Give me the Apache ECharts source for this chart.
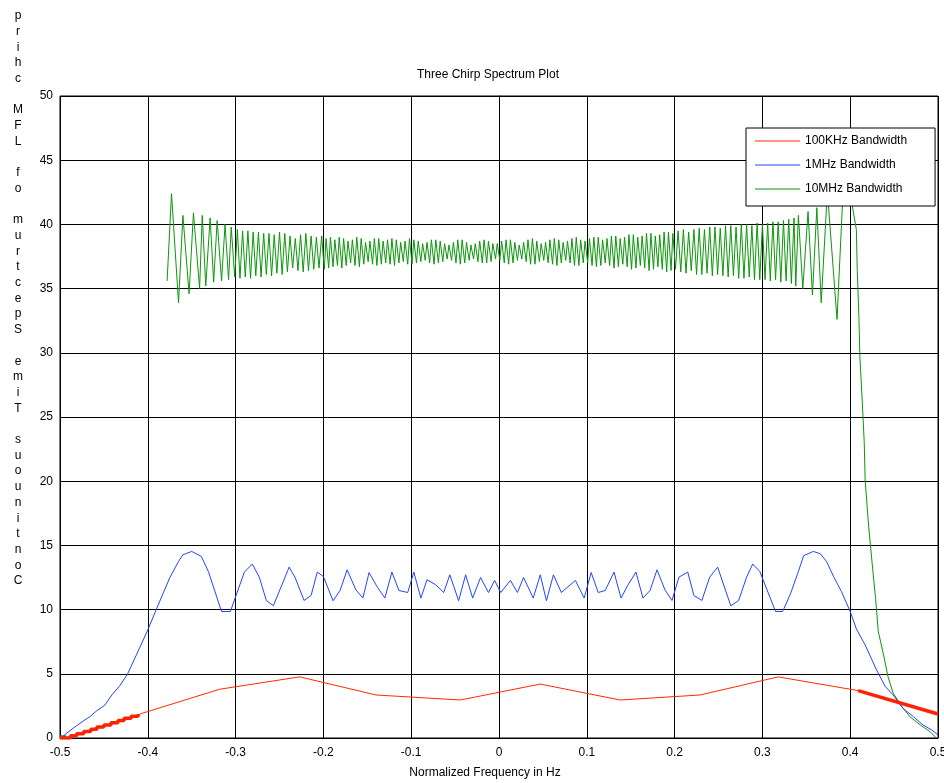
<!DOCTYPE html>
<html>
<head>
<meta charset="utf-8">
<script src="https://cdn.jsdelivr.net/npm/echarts@6/dist/echarts.min.js"></script>
<style>
  html, body { margin: 0; padding: 0; background: #fff; }
  #main { width: 944px; height: 783px; }
</style>
</head>
<body>
<div id="main"></div>
<script>
// axis ticks
var xTicks = [-0.5, -0.4, -0.3, -0.2, -0.1, 0, 0.1, 0.2, 0.3, 0.4, 0.5];
var yTicks = [0, 5, 10, 15, 20, 25, 30, 35, 40, 45, 50];

var seriesNames = ['100KHz Bandwidth', '1MHz Bandwidth', '10MHz Bandwidth'];

// 100KHz: thin part, plus the two heavy end pieces
var red100k = [[-0.409,1.87],[-0.318,3.8],[-0.227,4.76],[-0.14,3.35],[-0.044,2.96],[0.047,4.2],[0.138,2.96],[0.229,3.35],[0.318,4.76],[0.409,3.69]];
var red100kLeft = [[-0.5,0.0],[-0.496,0.0],[-0.488,0.17],[-0.481,0.34],[-0.473,0.51],[-0.465,0.68],[-0.458,0.85],[-0.45,1.02],[-0.442,1.19],[-0.434,1.36],[-0.427,1.53],[-0.419,1.7],[-0.411,1.87]];
var red100kRight = [[0.409,3.69],[0.5,1.87]];

// 1MHz
var blue1M = [[-0.497,0.1],[-0.492,0.4],[-0.481,0.96],[-0.474,1.3],[-0.466,1.66],[-0.458,2.13],[-0.449,2.55],[-0.441,3.35],[-0.432,4.06],[-0.423,4.99],[-0.413,6.47],[-0.4,8.42],[-0.391,9.9],
  [-0.383,11.2],[-0.375,12.48],[-0.365,13.75],[-0.36,14.27],[-0.35,14.53],[-0.339,14.14],[-0.331,12.97],[-0.316,9.85],[-0.306,9.85],[-0.29,12.92],[-0.281,13.55],[-0.273,12.53],
  [-0.265,10.71],[-0.257,10.3],[-0.239,13.31],[-0.232,12.46],[-0.222,10.71],[-0.214,11.1],[-0.207,12.92],[-0.2,12.58],[-0.189,10.69],[-0.181,11.49],[-0.173,13.1],[-0.163,11.54],
  [-0.155,10.9],[-0.148,12.89],[-0.139,11.8],[-0.13,10.9],[-0.122,12.92],[-0.114,11.49],[-0.104,11.33],[-0.097,12.92],[-0.089,10.9],[-0.082,12.32],[-0.072,11.93],[-0.063,11.33],
  [-0.056,12.71],[-0.046,10.69],[-0.038,12.71],[-0.03,10.9],[-0.021,12.5],[-0.012,11.33],[-0.005,12.27],[0.002,11.33],[0.013,12.27],[0.021,11.33],[0.028,12.5],[0.039,10.9],
  [0.047,12.71],[0.054,10.69],[0.062,12.71],[0.071,11.33],[0.087,12.27],[0.097,10.9],[0.105,12.89],[0.113,11.33],[0.121,11.49],[0.131,12.92],[0.139,10.9],[0.147,11.93],
  [0.156,12.92],[0.164,10.9],[0.172,11.49],[0.18,13.1],[0.189,11.54],[0.197,10.71],[0.205,12.53],[0.215,12.92],[0.222,11.1],[0.231,10.71],[0.24,12.53],[0.249,13.31],
  [0.264,10.3],[0.273,10.71],[0.282,12.53],[0.289,13.55],[0.297,12.97],[0.315,9.85],[0.323,9.85],[0.332,11.23],[0.341,12.97],[0.347,14.2],[0.358,14.53],[0.366,14.35],
  [0.373,13.75],[0.381,12.58],[0.39,11.41],[0.4,9.85],[0.407,8.5],[0.417,7.25],[0.43,5.3],[0.44,4.0],[0.449,3.35],[0.46,2.31],[0.472,1.66],[0.483,1.01],[0.493,0.62],[0.5,0.23]];

// 10MHz
var green10M = [[-0.378,35.6],[-0.373,42.4],[-0.365,33.9],[-0.36,40.7],[-0.353,34.6],[-0.348,40.9],[-0.341,35.0],[-0.338,40.7],[-0.334,35.2],[-0.329,40.5],[-0.325,35.5],
  [-0.321,40.3],[-0.316,35.6],[-0.312,40.0],[-0.308,35.7],[-0.305,39.8],[-0.301,35.9],
  [-0.298,39.6],[-0.295,35.8],[-0.292,39.5],[-0.289,35.9],[-0.286,39.5],[-0.283,35.8],[-0.28,39.4],[-0.277,36.0],[-0.274,39.4],[-0.271,35.9],[-0.268,39.3],[-0.265,36.1],
  [-0.262,39.3],[-0.259,36.0],[-0.256,39.2],[-0.253,36.2],[-0.25,39.4],[-0.247,36.1],[-0.244,39.3],[-0.241,36.3],[-0.238,39.1],[-0.235,36.6],[-0.232,38.9],[-0.229,36.4],
  [-0.226,39.2],[-0.223,36.3],[-0.22,39.3],[-0.217,36.4],[-0.214,39.1],[-0.211,36.5],[-0.208,39.0],[-0.205,36.6],[-0.202,39.1],[-0.199,36.5],
  [-0.197,38.9],[-0.194,36.6],[-0.192,39.0],[-0.189,36.7],[-0.187,38.8],[-0.184,36.8],[-0.182,39.0],[-0.179,36.6],[-0.177,38.9],[-0.174,36.8],[-0.172,38.7],[-0.169,37.0],
  [-0.167,38.8],[-0.164,36.8],[-0.162,39.0],[-0.159,36.7],[-0.157,38.9],[-0.154,36.9],[-0.152,38.6],[-0.149,37.1],[-0.147,38.7],[-0.144,36.9],[-0.142,38.9],[-0.139,36.8],
  [-0.137,38.9],[-0.134,36.9],[-0.132,38.7],[-0.129,37.0],[-0.127,38.8],[-0.124,36.9],[-0.122,38.9],[-0.119,36.8],[-0.117,38.8],[-0.114,37.0],[-0.112,38.6],[-0.109,37.1],
  [-0.107,38.7],[-0.104,36.9],[-0.102,38.9],[-0.099,36.9],
  [-0.097,38.8],[-0.094,37.0],[-0.092,38.7],[-0.089,37.1],[-0.087,38.5],[-0.084,37.2],[-0.082,38.6],[-0.079,37.0],[-0.077,38.8],[-0.074,36.9],[-0.072,38.8],[-0.069,37.0],
  [-0.067,38.7],[-0.064,37.1],[-0.062,38.5],[-0.059,37.3],[-0.057,38.4],[-0.054,37.2],[-0.052,38.6],[-0.049,37.0],[-0.047,38.8],[-0.044,36.9],[-0.042,38.8],[-0.039,37.0],
  [-0.037,38.6],[-0.034,37.2],[-0.032,38.4],[-0.029,37.3],[-0.027,38.5],[-0.024,37.1],[-0.022,38.7],[-0.019,37.0],[-0.017,38.8],[-0.014,37.0],[-0.012,38.7],[-0.009,37.1],
  [-0.007,38.5],[-0.004,37.3],[-0.002,38.5],[0.001,37.2],
  [0.003,38.7],[0.006,37.0],[0.008,38.8],[0.011,36.9],[0.013,38.8],[0.016,37.0],[0.018,38.6],[0.021,37.2],[0.023,38.4],[0.026,37.3],[0.028,38.6],[0.031,37.1],
  [0.033,38.8],[0.036,36.9],[0.038,38.9],[0.041,36.9],[0.043,38.7],[0.046,37.1],[0.048,38.5],[0.051,37.2],[0.053,38.6],[0.056,37.0],[0.058,38.8],[0.061,36.9],
  [0.063,38.9],[0.066,36.8],[0.068,38.8],[0.071,37.0],[0.073,38.6],[0.076,37.2],[0.078,38.7],[0.081,37.0],[0.083,38.9],[0.086,36.8],[0.088,39.0],[0.091,36.8],
  [0.093,38.8],[0.096,37.0],[0.098,38.7],[0.101,37.0],
  [0.103,38.9],[0.106,36.8],[0.108,39.0],[0.111,36.7],[0.113,39.0],[0.116,36.8],[0.118,38.8],[0.121,37.0],[0.123,38.9],[0.126,36.8],[0.128,39.1],[0.131,36.6],
  [0.133,39.1],[0.136,36.7],[0.138,38.9],[0.141,36.9],[0.143,39.0],[0.146,36.7],[0.148,39.2],[0.151,36.5],[0.153,39.2],[0.156,36.6],[0.158,39.0],[0.161,36.8],
  [0.163,39.1],[0.166,36.6],[0.168,39.3],[0.171,36.4],[0.173,39.3],[0.176,36.5],[0.178,39.1],[0.181,36.7],[0.183,39.2],[0.186,36.5],[0.188,39.4],[0.191,36.3],
  [0.193,39.4],[0.196,36.4],[0.198,39.3],[0.201,36.5],
  [0.204,39.5],[0.207,36.3],[0.21,39.6],[0.213,36.2],[0.216,39.4],[0.219,36.4],[0.222,39.6],[0.225,36.1],[0.228,39.7],[0.231,36.1],[0.234,39.6],[0.237,36.2],
  [0.24,39.8],[0.243,36.0],[0.246,39.8],[0.249,36.1],[0.252,39.7],[0.255,36.0],[0.258,39.9],[0.261,35.9],[0.264,39.9],[0.267,36.0],[0.27,39.8],[0.273,35.8],
  [0.276,40.0],[0.279,35.8],[0.282,40.0],[0.285,35.9],[0.288,39.9],[0.291,35.7],[0.294,40.1],[0.297,35.7],
  [0.3,40.0],[0.303,35.7],[0.306,40.1],[0.309,35.6],[0.312,40.2],[0.315,35.7],[0.318,40.2],[0.321,35.5],[0.324,40.3],[0.327,35.6],[0.33,40.4],[0.333,35.4],
  [0.336,40.5],[0.338,35.2],[0.341,40.7],[0.346,35.0],[0.352,41.0],[0.357,34.5],[0.362,41.3],[0.367,33.9],[0.374,42.6],[0.385,32.6],[0.392,42.8],[0.399,43.0],
  [0.403,41.2],[0.407,39.6],[0.408,36.5],[0.41,32.6],[0.411,29.75],[0.414,25.85],[0.416,23.0],[0.417,20.1],[0.421,16.5],[0.425,13.6],[0.429,10.8],[0.432,8.3],
  [0.438,6.47],[0.443,4.78],[0.449,3.48],[0.459,2.44],[0.468,1.66],[0.48,1.01],[0.491,0.49],[0.498,0.0]];
var green10MStart = [[-0.5,0.1],[-0.493,0.1]];

var yLabel = 'Continuous Time Spectrum of LFM chirp';

var myChart = echarts.init(document.getElementById('main'));
var font = 'Liberation Sans';
var lineIcon = 'path://M0,0H45V1H0Z';

var option = {
  animation: false,
  backgroundColor: '#fff',
  textStyle: { fontFamily: font },
  grid: {
    left: 60, right: 6, top: 96, bottom: 45,
    outerBoundsMode: 'none',
    containLabel: false,
    show: true, borderColor: '#000', borderWidth: 1
  },
  legend: {
    orient: 'vertical',
    left: 746, top: 128,
    padding: [7, 28, 11, 9],
    itemWidth: 45, itemHeight: 12, itemGap: 12,
    backgroundColor: '#fff',
    borderColor: '#000', borderWidth: 1,
    icon: lineIcon,
    data: seriesNames,
    textStyle: { color: '#000', fontSize: 12, fontFamily: font },
    selectedMode: false
  },
  xAxis: {
    type: 'value', min: -0.5, max: 0.5, interval: 0.1,
    axisLine: { show: true, lineStyle: { color: '#000' } },
    axisTick: { show: false },
    axisLabel: {
      color: '#000', fontSize: 12, margin: 9,
      formatter: function (v) { var r = Math.round(v * 10) / 10; return r === 0 ? '0' : String(r); }
    },
    splitLine: { show: true, lineStyle: { color: '#000', width: 1 } }
  },
  yAxis: {
    type: 'value', min: 0, max: 50, interval: 5,
    axisLine: { show: true, lineStyle: { color: '#000' } },
    axisTick: { show: false },
    axisLabel: { color: '#000', fontSize: 12, margin: 7 },
    splitLine: { show: true, lineStyle: { color: '#000', width: 1 } }
  },
  graphic: [
    { type: 'text', x: 488, y: 75, style: { text: 'Three Chirp Spectrum Plot', font: '12px ' + font, fill: '#000', align: 'center', verticalAlign: 'middle' } },
    { type: 'text', x: 485, y: 773, style: { text: 'Normalized Frequency in Hz', font: '12px ' + font, fill: '#000', align: 'center', verticalAlign: 'middle' } },
    { type: 'text', x: 18, y: 8, style: { text: yLabel.split('').reverse().join('\n'), font: '12px ' + font, lineHeight: 15.7, fill: '#000', align: 'center', verticalAlign: 'top' } }
  ],
  series: [
    { name: seriesNames[0], type: 'line', data: red100k, symbol: 'none', lineStyle: { color: '#ff2a00', width: 1 }, itemStyle: { color: '#ff2a00' }, z: 4 },
    { name: seriesNames[1], type: 'line', data: blue1M, symbol: 'none', lineStyle: { color: '#2244ff', width: 1 }, itemStyle: { color: '#2244ff' }, z: 3 },
    { name: seriesNames[2], type: 'line', data: green10M, symbol: 'none', lineStyle: { color: '#0c960c', width: 1 }, itemStyle: { color: '#0c960c' }, z: 2 },
    { name: seriesNames[0], type: 'line', data: red100kLeft, step: 'end', symbol: 'none', lineStyle: { color: '#ff2200', width: 3.5 }, z: 4 },
    { name: seriesNames[0], type: 'line', data: red100kRight, symbol: 'none', lineStyle: { color: '#ff2200', width: 3.5 }, z: 4 },
    { name: seriesNames[2], type: 'line', data: green10MStart, symbol: 'none', lineStyle: { color: '#0c960c', width: 3 }, z: 2 }
  ]
};

myChart.setOption(option);
</script>
</body>
</html>
